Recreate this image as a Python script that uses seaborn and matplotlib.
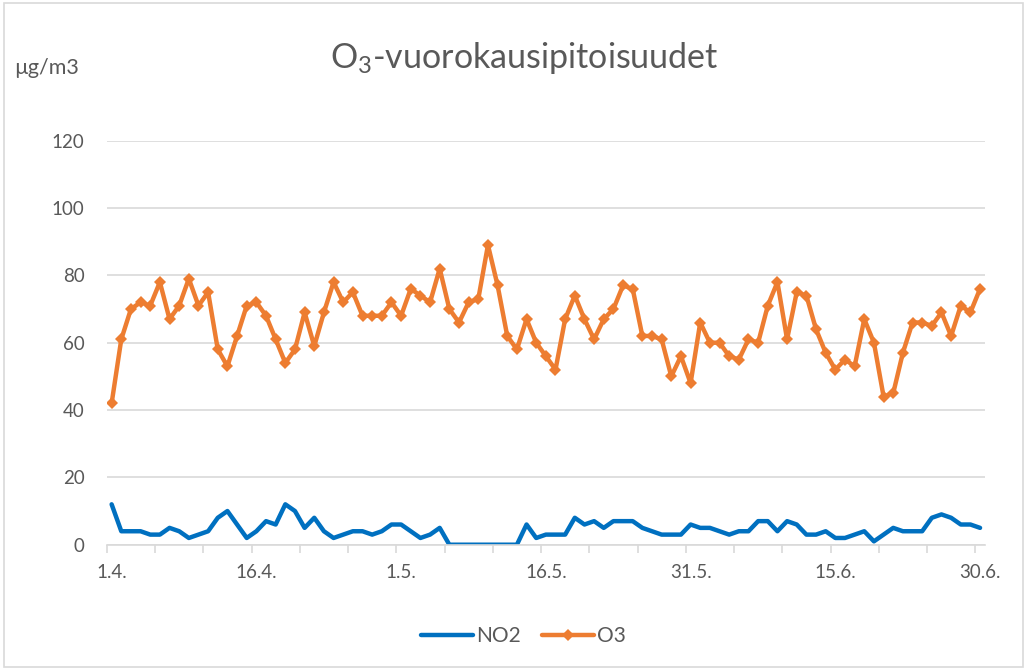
"""
O3 and NO2 daily concentrations, 1.4. - 30.6.
"""

import numpy as np
import pandas as pd
import matplotlib
matplotlib.use('Agg')
import matplotlib.pyplot as plt
from matplotlib.lines import Line2D
from matplotlib.patches import Rectangle
import seaborn as sns

# daily values, µg/m3 (91 days, 1.4. - 30.6.)
o3 = [42, 61, 70, 72, 71, 78, 67, 71, 79, 71,
      75, 58, 53, 62, 71, 72, 68, 61, 54, 58,
      69, 59, 69, 78, 72, 75, 68, 68, 68, 72,
      68, 76, 74, 72, 82, 70, 66, 72, 73, 89,
      77, 62, 58, 67, 60, 56, 52, 67, 74, 67,
      61, 67, 70, 77, 76, 62, 62, 61, 50, 56,
      48, 66, 60, 60, 56, 55, 61, 60, 71, 78,
      61, 75, 74, 64, 57, 52, 55, 53, 67, 60,
      44, 45, 57, 66, 66, 65, 69, 62, 71, 69,
      76]
no2 = [12, 4, 4, 4, 3, 3, 5, 4, 2, 3,
       4, 8, 10, 6, 2, 4, 7, 6, 12, 10,
       5, 8, 4, 2, 3, 4, 4, 3, 4, 6,
       6, 4, 2, 3, 5, 0, 0, 0, 0, 0,
       0, 0, 0, 6, 2, 3, 3, 3, 8, 6,
       7, 5, 7, 7, 7, 5, 4, 3, 3, 3,
       6, 5, 5, 4, 3, 4, 4, 7, 7, 4,
       7, 6, 3, 3, 4, 2, 2, 3, 4, 1,
       3, 5, 4, 4, 4, 8, 9, 8, 6, 6,
       5]
tick_labels = ['1.4.', '16.4.', '1.5.', '16.5.', '31.5.', '15.6.', '30.6.']
series_names = ['NO2', 'O3']

BLUE = '#0070C0'
ORANGE = '#ED7D31'
GRAY_TEXT = '#595959'
GRID = '#d9d9d9'

sns.set_theme(style='white')
plt.rcParams['font.family'] = ['Lato', 'DejaVu Sans']
plt.rcParams['mathtext.fontset'] = 'custom'
plt.rcParams['mathtext.rm'] = 'Lato'

df = pd.DataFrame({'day': np.arange(len(o3)), 'NO2': no2, 'O3': o3})

fig = plt.figure(figsize=(10.27, 6.70), dpi=100)
ax = fig.add_axes([0.104, 0.187, 0.855, 0.603])

sns.lineplot(data=df, x='day', y='NO2', ax=ax, color=BLUE, linewidth=3.2)
sns.lineplot(data=df, x='day', y='O3', ax=ax, color=ORANGE, linewidth=3.2,
             marker='D', markersize=6.5, markeredgewidth=0)

ax.set_xlim(-0.5, len(o3) - 0.5)
ax.set_ylim(0, 120)
ax.set_yticks(range(0, 121, 20))
ax.grid(axis='y', color=GRID, linewidth=1.2)
ax.set_axisbelow(True)

ax.set_xticks(np.arange(0, len(o3), 15))
ax.set_xticklabels(tick_labels)
ax.set_xticks(np.arange(-0.5, len(o3) - 1, 5), minor=True)
ax.tick_params(axis='x', which='major', length=0, pad=14, labelsize=13.5, labelcolor=GRAY_TEXT)
ax.tick_params(axis='x', which='minor', length=6, width=1.2, color=GRID, bottom=True)
ax.tick_params(axis='y', length=0, pad=16, labelsize=13.5, labelcolor=GRAY_TEXT)
ax.set_xlabel('')
ax.set_ylabel('')

for side in ['top', 'right', 'left']:
    ax.spines[side].set_visible(False)
ax.spines['bottom'].set_color(GRID)
ax.spines['bottom'].set_linewidth(1.2)

fig.text(0.511, 0.913, r'O$_\mathrm{3}$-vuorokausipitoisuudet', ha='center', va='center',
         fontsize=24.5, color=GRAY_TEXT)
fig.text(0.014, 0.898, 'µg/m3', ha='left', va='center', fontsize=15.5, color=GRAY_TEXT)

handles = [Line2D([], [], color=BLUE, linewidth=3.2),
           Line2D([], [], color=ORANGE, linewidth=3.2, marker='D', markersize=6.5, markeredgewidth=0)]
fig.legend(handles, series_names, loc='center', bbox_to_anchor=(0.51, 0.05), ncol=2,
           frameon=False, fontsize=15, handlelength=2.5, handletextpad=0.15, columnspacing=1.0,
           labelcolor=GRAY_TEXT)

fig.patches.append(Rectangle((0.004, 0.004), 0.992, 0.992, transform=fig.transFigure,
                             fill=False, edgecolor=GRID, linewidth=1.2))

plt.savefig('out.png', dpi=100)
plt.close()
